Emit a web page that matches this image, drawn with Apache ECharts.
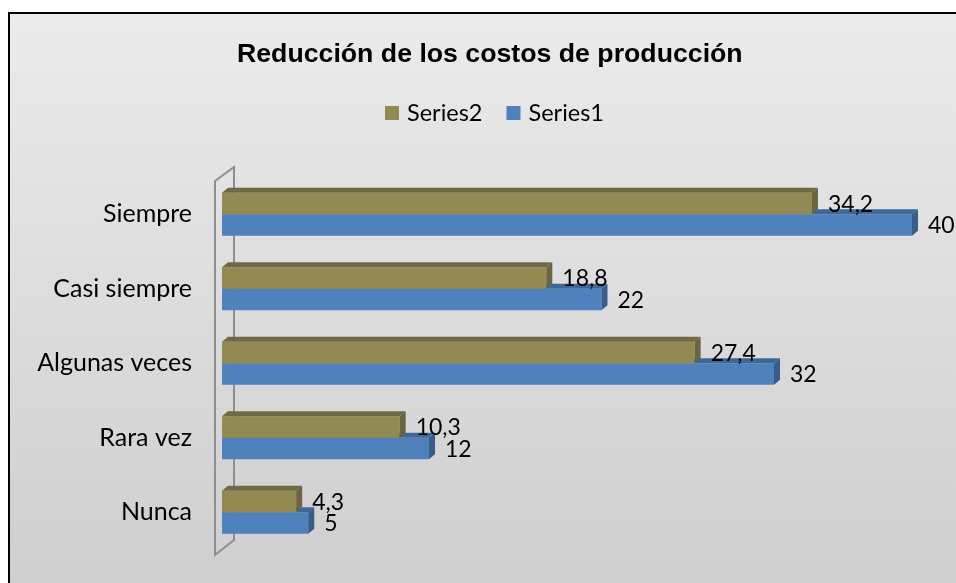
<!DOCTYPE html>
<html>
<head>
<meta charset="utf-8">
<script src="https://cdn.jsdelivr.net/npm/echarts@6/dist/echarts.min.js"></script>
<style>
  html, body { margin: 0; padding: 0; background: #fff; }
  #main { width: 956px; height: 583px; }
</style>
</head>
<body>
<div id="main"></div>
<script>
// data, bottom to top as Excel draws it
var categories = ['Nunca', 'Rara vez', 'Algunas veces', 'Casi siempre', 'Siempre'];
var series1 = [5, 12, 32, 22, 40];
var series2 = [4.3, 10.3, 27.4, 18.8, 34.2];

var GRID = { left: 222, right: 44, top: 177, bottom: 33.5 };
var DX = 6, DY = -5;
var BAR = 0.29; // bar thickness as part of the band

function toData(vals) {
  return vals.map(function (v, i) { return [v, i]; });
}

function fmt(v) {
  return String(v).replace('.', ',');
}

function makeRender(upper, front, top, side) {
  return function (params, api) {
    var val = api.value(0), cat = api.value(1);
    var c0 = api.coord([0, cat]);
    var c1 = api.coord([val, cat]);
    var bw = api.size([0, 1])[1] * BAR;
    var x0 = c0[0], x1 = c1[0];
    var y0 = upper ? c0[1] - bw : c0[1];
    return {
      type: 'group',
      children: [
        { type: 'rect', shape: { x: x0, y: y0, width: x1 - x0, height: bw }, style: { fill: front } },
        { type: 'polygon', shape: { points: [[x0, y0], [x0 + DX, y0 + DY], [x1 + DX, y0 + DY], [x1, y0]] }, style: { fill: top } },
        { type: 'polygon', shape: { points: [[x1, y0], [x1 + DX, y0 + DY], [x1 + DX, y0 + bw + DY], [x1, y0 + bw]] }, style: { fill: side } },
        { type: 'text', x: x1 + 16, y: y0 + bw / 2 + 1,
          style: { text: fmt(val), fill: '#000', font: '23px Lato', verticalAlign: 'middle', align: 'left' } }
      ]
    };
  };
}

var chart = echarts.init(document.getElementById('main'));
var option = {
  backgroundColor: '#fff',
  animation: false,
  title: {
    text: 'Reducción de los costos de producción',
    left: 232,
    top: 36,
    textStyle: { fontFamily: 'Liberation Sans', fontWeight: 'bold', fontSize: 26.7, color: '#000' }
  },
  legend: {
    data: ['Series2', 'Series1'],
    top: 96,
    left: 380,
    icon: 'rect',
    itemWidth: 14,
    itemHeight: 14,
    itemGap: 24,
    textStyle: { fontFamily: 'Lato', fontSize: 23.5, color: '#000', padding: [0, 0, 0, 3] }
  },
  graphic: [
    {
      type: 'rect', z: -10,
      shape: { x: 9, y: 13, width: 1000, height: 1000 },
      style: {
        stroke: '#000', lineWidth: 2,
        fill: new echarts.graphic.LinearGradient(0, 0, 0, 1, [
          { offset: 0, color: '#ebebeb' },
          { offset: 1, color: '#b9b9b9' }
        ])
      }
    },
    {
      type: 'polygon', z: 0,
      shape: { points: [
        [GRID.left - 7, GRID.top + 4],
        [GRID.left + 12, GRID.top - 10],
        [GRID.left + 12, 583 - GRID.bottom - 9.5],
        [GRID.left - 7, 583 - GRID.bottom + 5.5]
      ] },
      style: { fill: 'none', stroke: '#8e8e8e', lineWidth: 2 }
    }
  ],
  grid: GRID,
  xAxis: {
    type: 'value', min: 0, max: 40, show: false
  },
  yAxis: {
    type: 'category',
    data: categories,
    axisLine: { show: false },
    axisTick: { show: false },
    axisLabel: { margin: 30, fontFamily: 'Lato', fontSize: 25, color: '#000' }
  },
  series: [
    {
      name: 'Series1', type: 'custom', z: 3,
      itemStyle: { color: '#4f81bd' },
      encode: { x: 0, y: 1 },
      renderItem: makeRender(false, '#4f81bd', '#3d6898', '#385d8a'),
      data: toData(series1)
    },
    {
      name: 'Series2', type: 'custom', z: 4,
      itemStyle: { color: '#938953' },
      encode: { x: 0, y: 1 },
      renderItem: makeRender(true, '#938953', '#6f6a44', '#6a6440'),
      data: toData(series2)
    }
  ]
};
chart.setOption(option);
</script>
</body>
</html>
